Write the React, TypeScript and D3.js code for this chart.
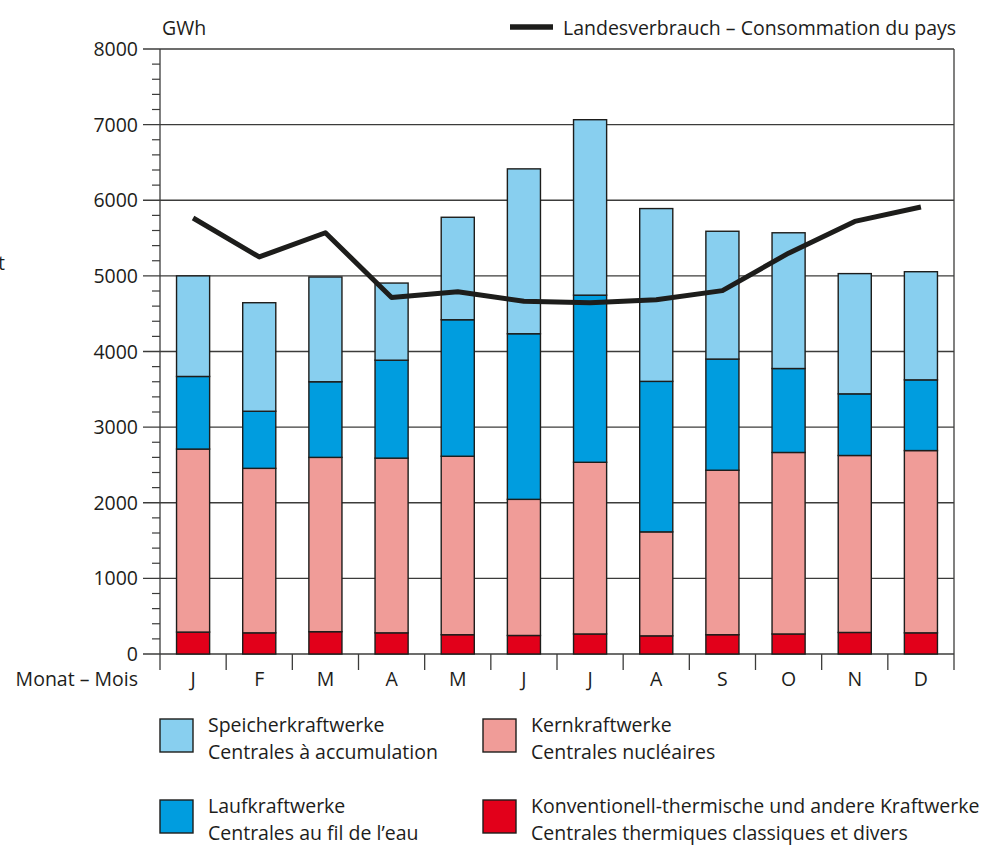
import React, { useEffect, useRef } from "react";
import * as d3 from "d3";

// monthly values, GWh
const months = ["J", "F", "M", "A", "M", "J", "J", "A", "S", "O", "N", "D"];
const thermal = [290, 280, 295, 280, 255, 245, 265, 240, 255, 265, 285, 280];
const nuclear = [2420, 2175, 2305, 2310, 2360, 1800, 2270, 1375, 2175, 2400, 2340, 2410];
const runOfRiver = [960, 755, 1000, 1295, 1805, 2190, 2210, 1990, 1470, 1110, 815, 935];
const storage = [1330, 1435, 1385, 1020, 1355, 2180, 2320, 2285, 1690, 1795, 1590, 1430];
const consumption = [5765, 5250, 5570, 4715, 4790, 4665, 4645, 4685, 4805, 5300, 5720, 5910];
const yTicks = [0, 1000, 2000, 3000, 4000, 5000, 6000, 7000, 8000];

const seriesKeys = ["thermal", "nuclear", "run", "storage"];
const colors = {
  thermal: "#e2001a",
  nuclear: "#f09c98",
  run: "#009ddf",
  storage: "#88cfef",
};
const legendItems = [
  { key: "storage", de: "Speicherkraftwerke", fr: "Centrales à accumulation", col: 0, row: 0 },
  { key: "nuclear", de: "Kernkraftwerke", fr: "Centrales nucléaires", col: 1, row: 0 },
  { key: "run", de: "Laufkraftwerke", fr: "Centrales au fil de l’eau", col: 0, row: 1 },
  {
    key: "thermal",
    de: "Konventionell-thermische und andere Kraftwerke",
    fr: "Centrales thermiques classiques et divers",
    col: 1,
    row: 1,
  },
];

const width = 981;
const height = 846;
const margin = { left: 160, right: 27, top: 49, bottom: 192 };
const font = "'Open Sans', sans-serif";
const ink = "#1d1d1b";

const App = () => {
  const ref = useRef(null);

  useEffect(() => {
    const svg = d3.select(ref.current);
    svg.selectAll("*").remove();

    const rows = months.map((m, i) => ({
      i,
      thermal: thermal[i],
      nuclear: nuclear[i],
      run: runOfRiver[i],
      storage: storage[i],
    }));
    const series = d3.stack().keys(seriesKeys)(rows);

    const x = d3
      .scaleBand()
      .domain(d3.range(months.length))
      .range([margin.left, width - margin.right])
      .paddingInner(0.5)
      .paddingOuter(0.25);

    const y = d3
      .scaleLinear()
      .domain([0, 8000])
      .range([height - margin.bottom, margin.top]);

    const x0 = margin.left;
    const x1 = width - margin.right;
    const yBottom = y(0);
    const edge = (i) => x(i) - (x.step() - x.bandwidth()) / 2;

    // gridlines + major ticks
    svg
      .append("g")
      .selectAll("line")
      .data(yTicks)
      .join("line")
      .attr("x1", x0 - 17)
      .attr("x2", x1)
      .attr("y1", (d) => y(d))
      .attr("y2", (d) => y(d))
      .attr("stroke", "#3c3c3b")
      .attr("stroke-width", 1.3);

    // minor ticks
    svg
      .append("g")
      .selectAll("line")
      .data(d3.range(0, 8000, 200).filter((d) => d % 1000 !== 0))
      .join("line")
      .attr("x1", x0 - 8)
      .attr("x2", x0)
      .attr("y1", (d) => y(d))
      .attr("y2", (d) => y(d))
      .attr("stroke", "#3c3c3b")
      .attr("stroke-width", 1.2);

    // month separators (incl. both frame sides)
    svg
      .append("g")
      .selectAll("line")
      .data(d3.range(months.length + 1))
      .join("line")
      .attr("x1", (i) => (i === months.length ? x1 : edge(i)))
      .attr("x2", (i) => (i === months.length ? x1 : edge(i)))
      .attr("y1", (i) => (i === 0 || i === months.length ? y(8000) : yBottom))
      .attr("y2", yBottom + 16)
      .attr("stroke", "#3c3c3b")
      .attr("stroke-width", 1.3);

    // bars
    svg
      .append("g")
      .selectAll("g")
      .data(series)
      .join("g")
      .attr("fill", (s) => colors[s.key])
      .selectAll("rect")
      .data((s) => s)
      .join("rect")
      .attr("x", (d) => x(d.data.i))
      .attr("y", (d) => y(d[1]))
      .attr("width", x.bandwidth())
      .attr("height", (d) => y(d[0]) - y(d[1]))
      .attr("stroke", ink)
      .attr("stroke-width", 1.4);

    // consumption line
    const line = d3
      .line()
      .x((d, i) => x(i) + x.bandwidth() / 2)
      .y((d) => y(d));
    svg
      .append("path")
      .attr("d", line(consumption))
      .attr("fill", "none")
      .attr("stroke", ink)
      .attr("stroke-width", 5)
      .attr("stroke-linejoin", "round");

    // y labels
    svg
      .append("g")
      .selectAll("text")
      .data(yTicks)
      .join("text")
      .attr("x", x0 - 22)
      .attr("y", (d) => y(d) + 7)
      .attr("text-anchor", "end")
      .attr("font-family", font)
      .attr("font-size", 19.5)
      .attr("fill", ink)
      .text((d) => d);

    // month labels
    svg
      .append("g")
      .selectAll("text")
      .data(months)
      .join("text")
      .attr("x", (d, i) => x(i) + x.bandwidth() / 2)
      .attr("y", yBottom + 32)
      .attr("text-anchor", "middle")
      .attr("font-family", font)
      .attr("font-size", 19.5)
      .attr("fill", ink)
      .text((d) => d);

    svg
      .append("text")
      .attr("x", x0 - 22)
      .attr("y", yBottom + 32)
      .attr("text-anchor", "end")
      .attr("font-family", font)
      .attr("font-size", 19.5)
      .attr("fill", ink)
      .text("Monat – Mois");

    svg
      .append("text")
      .attr("x", x0 + 2)
      .attr("y", 35)
      .attr("font-family", font)
      .attr("font-size", 19.5)
      .attr("fill", ink)
      .text("GWh");

    // cut-off letter at the left edge
    svg
      .append("text")
      .attr("x", 5)
      .attr("y", 270)
      .attr("text-anchor", "end")
      .attr("font-family", font)
      .attr("font-size", 19.5)
      .attr("fill", ink)
      .text("t");

    // line legend
    svg
      .append("line")
      .attr("x1", 510)
      .attr("x2", 553)
      .attr("y1", 27)
      .attr("y2", 27)
      .attr("stroke", ink)
      .attr("stroke-width", 5.5);
    svg
      .append("text")
      .attr("x", 563)
      .attr("y", 35)
      .attr("font-family", font)
      .attr("font-size", 19.5)
      .attr("fill", ink)
      .text("Landesverbrauch – Consommation du pays");

    // bar legend
    const lg = svg
      .append("g")
      .selectAll("g")
      .data(legendItems)
      .join("g")
      .attr("transform", (d) => `translate(${d.col === 0 ? 160 : 483}, ${d.row === 0 ? 719 : 800})`);
    lg.append("rect")
      .attr("width", 33)
      .attr("height", 33)
      .attr("fill", (d) => colors[d.key])
      .attr("stroke", ink)
      .attr("stroke-width", 1.4);
    lg.append("text")
      .attr("x", 48)
      .attr("y", 13)
      .attr("font-family", font)
      .attr("font-size", 19.5)
      .attr("fill", ink)
      .text((d) => d.de);
    lg.append("text")
      .attr("x", 48)
      .attr("y", 40)
      .attr("font-family", font)
      .attr("font-size", 19.5)
      .attr("fill", ink)
      .text((d) => d.fr);
  }, []);

  return (
    <div>
      <svg
        ref={ref}
        width={width}
        height={height}
        viewBox={`0 0 ${width} ${height}`}
        style={{ position: "absolute", left: 0, top: 0, background: "#fff" }}
      />
    </div>
  );
};

export default App;
